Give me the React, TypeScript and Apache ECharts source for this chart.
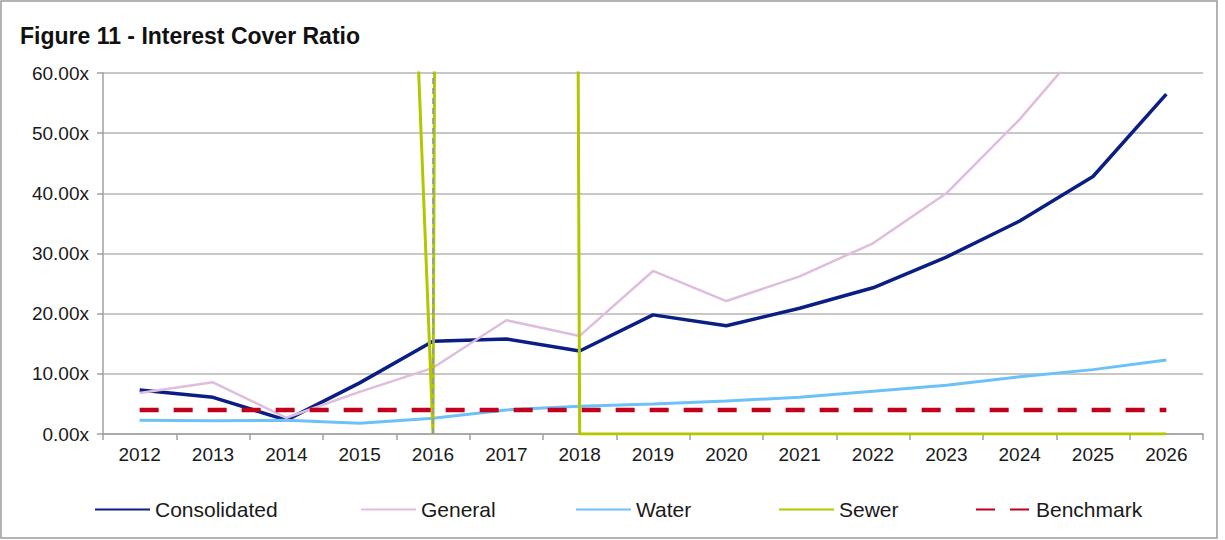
import React, { useEffect, useRef } from "react";
import * as echarts from "echarts";

const years = ["2012","2013","2014","2015","2016","2017","2018","2019","2020","2021","2022","2023","2024","2025","2026"];
const consolidated = [7.3, 6.1, 2.3, 8.5, 15.4, 15.8, 13.8, 19.8, 18.0, 20.9, 24.3, 29.4, 35.4, 42.8, 56.5];
const general = [6.8, 8.6, 2.7, 7.0, 11.0, 18.9, 16.3, 27.1, 22.1, 26.2, 31.7, 40.0, 52.3, 66.5, 88.0];
const water = [2.3, 2.2, 2.3, 1.8, 2.6, 4.0, 4.6, 5.0, 5.5, 6.1, 7.1, 8.1, 9.5, 10.7, 12.3];
const sewer = [null, null, null, 308, 0, 3000, 0, 0, 0, 0, 0, 0, 0, 0, 0];
const benchmark = [4, 4, 4, 4, 4, 4, 4, 4, 4, 4, 4, 4, 4, 4, 4];
const yTicks = { min: 0, max: 60, interval: 10 };
const markerYear = "2016";

const FONT = "'Liberation Sans', Arial, sans-serif";

export default function App() {
  const ref = useRef<HTMLDivElement>(null);
  useEffect(() => {
    document.body.style.margin = "0";
    const chart = echarts.init(ref.current!, null, { renderer: "svg" });
    const legendText = { fontFamily: FONT, fontSize: 21, color: "#1a1a1a" };
    const mkLegend = (name: string, left: number) => ({
      data: [name],
      left,
      top: 494,
      itemWidth: 55,
      itemHeight: 14,
      itemGap: 0,
      itemStyle: { opacity: 0 },
      textStyle: legendText,
    });
    chart.setOption({
      animation: false,
      backgroundColor: "#fff",
      title: {
        text: "Figure 11 - Interest Cover Ratio",
        left: 15,
        top: 19,
        textStyle: { fontFamily: FONT, fontSize: 23, fontWeight: "bold", color: "#111" },
      },
      graphic: [
        {
          type: "rect",
          shape: { x: 1, y: 1, width: 1216, height: 537 },
          style: { fill: "none", stroke: "#9a9a9a", lineWidth: 1.5 },
          silent: true,
        },
      ],
      legend: [
        mkLegend("Consolidated", 89),
        mkLegend("General", 355),
        mkLegend("Water", 570),
        mkLegend("Sewer", 773),
        mkLegend("Benchmark", 970),
      ],
      grid: { left: 103, right: 22, top: 73, bottom: 106 },
      xAxis: {
        type: "category",
        data: years,
        boundaryGap: true,
        axisLine: { lineStyle: { color: "#a0a0a0", width: 1.5 } },
        axisTick: { show: true, interval: 0, length: 6, lineStyle: { color: "#a0a0a0", width: 1.5 } },
        axisLabel: { fontFamily: FONT, fontSize: 19, color: "#1a1a1a", margin: 11, interval: 0 },
      },
      yAxis: {
        type: "value",
        min: yTicks.min,
        max: yTicks.max,
        interval: yTicks.interval,
        axisLine: { show: true, lineStyle: { color: "#a0a0a0", width: 1.5 } },
        axisTick: { show: true, length: 6, lineStyle: { color: "#a0a0a0", width: 1.5 } },
        splitLine: { lineStyle: { color: "#b4b4b4", width: 1.5 } },
        axisLabel: {
          fontFamily: FONT,
          fontSize: 19,
          color: "#1a1a1a",
          margin: 14,
          formatter: (v: number) => v.toFixed(2) + "x",
        },
      },
      series: [
        {
          name: "Consolidated",
          type: "line",
          data: consolidated,
          symbol: "none",
          lineStyle: { color: "#0b1e84", width: 3.5 },
          itemStyle: { color: "#0b1e84" },
          markLine: {
            silent: true,
            symbol: "none",
            label: { show: false },
            lineStyle: { color: "#8894b4", type: [6, 4], width: 1.5 },
            data: [[{ coord: [markerYear, yTicks.min] }, { coord: [markerYear, yTicks.max] }]],
          },
        },
        {
          name: "General",
          type: "line",
          data: general,
          symbol: "none",
          lineStyle: { color: "#dfbddd", width: 2.5 },
          itemStyle: { color: "#dfbddd" },
        },
        {
          name: "Water",
          type: "line",
          data: water,
          symbol: "none",
          lineStyle: { color: "#6cc2f7", width: 3 },
          itemStyle: { color: "#6cc2f7" },
        },
        {
          name: "Sewer",
          type: "line",
          data: sewer,
          symbol: "none",
          connectNulls: false,
          lineStyle: { color: "#b3c600", width: 3 },
          itemStyle: { color: "#b3c600" },
        },
        {
          name: "Benchmark",
          type: "line",
          data: benchmark,
          symbol: "none",
          lineStyle: { color: "#c0001c", width: 4.5, type: [19, 15] },
          itemStyle: { color: "#c0001c" },
        },
      ],
    });
    return () => chart.dispose();
  }, []);
  return (
    <div
      ref={ref}
      style={{ position: "absolute", left: 0, top: 0, width: 1225, height: 540 }}
    />
  );
}
